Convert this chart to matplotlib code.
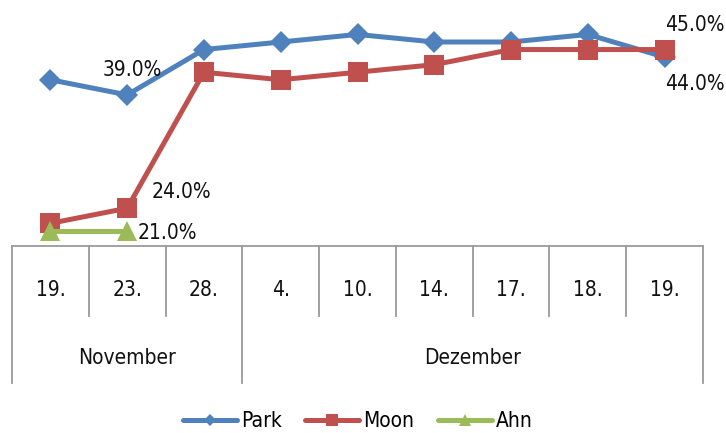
import numpy as np
import matplotlib
matplotlib.use("Agg")
import matplotlib.pyplot as plt
from matplotlib.lines import Line2D

# --- data ---
days = ["19.", "23.", "28.", "4.", "10.", "14.", "17.", "18.", "19."]
months = ["November", "Dezember"]
month_days = [3, 6]

park = [41, 39, 45, 46, 47, 46, 46, 47, 44]
moon = [22, 24, 42, 41, 42, 43, 45, 45, 45]
ahn = [21, 21]

# (series, point index, label offset in pixels)
labels = [
    ("Park", 1, (5, 25)),
    ("Moon", 1, (54, 16)),
    ("Ahn", 1, (40, -2)),
    ("Moon", 8, (30, 25)),
    ("Park", 8, (30, -27)),
]

W, H = 726, 433
fig = plt.figure(figsize=(W / 100, H / 100), dpi=100)

# plot area in pixels (left, top, right, bottom)
L, T, R, B = 12, 8, 703, 246
ax = fig.add_axes([L / W, 1 - B / H, (R - L) / W, (B - T) / H])

font = dict(family="DejaVu Sans", stretch="condensed", size=15, color="#111111")

colors = {"Park": "#4F81BD", "Moon": "#C0504D", "Ahn": "#9BBB59"}
series = {"Park": park, "Moon": moon, "Ahn": ahn}
markers = {"Park": ("D", 11.5), "Moon": ("s", 14), "Ahn": ("^", 14.5)}

x = np.arange(len(days))
for name in ["Park", "Moon", "Ahn"]:
    vals = series[name]
    m, ms = markers[name]
    ax.plot(x[:len(vals)], vals, color=colors[name], lw=3.6, marker=m,
            markersize=ms, markeredgewidth=0, solid_joinstyle="round",
            clip_on=False, zorder=3)

for name, i, off in labels:
    v = series[name][i]
    ax.annotate(f"{v:.1f}%", (x[i], v), xytext=off, textcoords="offset pixels",
                ha="center", va="center", **font)

ax.set_xlim(-0.5, len(days) - 0.5)
ax.set_ylim(19, 50.5)
ax.axis("off")

# two-level category axis drawn below the plot
def ypx(py):
    return (B - py) / (B - T)

grid = dict(color="#9A9A9A", lw=1.3, clip_on=False, transform=ax.get_xaxis_transform())
ax.plot([-0.5, len(days) - 0.5], [0, 0], **grid)

month_edges = np.cumsum([0] + month_days) - 0.5
for e in np.arange(len(days) + 1) - 0.5:
    bottom = 383 if e in month_edges else 316
    ax.plot([e, e], [0, ypx(bottom)], **grid)

for i, d in enumerate(days):
    ax.text(i, ypx(290), d, ha="center", va="center",
            transform=ax.get_xaxis_transform(), **font)

for j, mname in enumerate(months):
    mid = (month_edges[j] + month_edges[j + 1]) / 2
    ax.text(mid, ypx(358), mname, ha="center", va="center",
            transform=ax.get_xaxis_transform(), **font)

# legend
legend_ms = {"Park": 6.5, "Moon": 8, "Ahn": 8}
handles = [Line2D([], [], color=colors[n], lw=3.6, marker=markers[n][0],
                  markersize=legend_ms[n], markeredgewidth=0,
                  solid_capstyle="round")
           for n in ["Park", "Moon", "Ahn"]]
fig.legend(handles, ["Park", "Moon", "Ahn"], loc="center",
           bbox_to_anchor=(0.493, 1 - 421 / H), ncol=3, frameon=False,
           handlelength=2.6, handletextpad=0.2, columnspacing=1.1,
           prop=dict(family="DejaVu Sans", stretch="condensed", size=15))

fig.savefig("out.png", dpi=100)
